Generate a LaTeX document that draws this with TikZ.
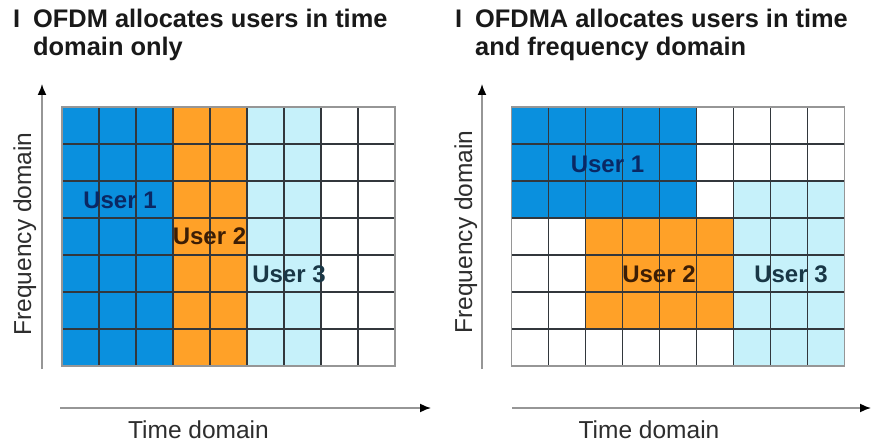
\documentclass[tikz,border=0pt]{standalone}
\usepackage{fontspec}
\setmainfont{Liberation Sans}
\usetikzlibrary{arrows.meta}

\definecolor{userblue}{RGB}{10,144,222}
\definecolor{userorange}{RGB}{255,161,40}
\definecolor{usercyan}{RGB}{198,241,250}
\definecolor{gridink}{RGB}{50,55,60}
\definecolor{frameink}{RGB}{150,150,150}
\definecolor{axisink}{RGB}{150,150,150}
\definecolor{titleink}{RGB}{25,25,25}
\definecolor{labelink}{RGB}{45,45,45}
\definecolor{oneink}{RGB}{10,40,100}
\definecolor{twoink}{RGB}{60,30,5}
\definecolor{threeink}{RGB}{25,55,70}

\tikzset{
  titletext/.style={anchor=base west, inner sep=0pt, text=titleink,
    font=\fontsize{25.4}{30}\selectfont\bfseries},
  axislabel/.style={anchor=base, inner sep=0pt, text=labelink,
    font=\fontsize{24.5}{29}\selectfont},
  userlabel/.style={anchor=base, inner sep=0pt,
    font=\fontsize{24}{29}\selectfont\bfseries},
  gridline/.style={draw=gridink, line width=1.1pt},
  gridframe/.style={draw=frameink, line width=1.4pt},
  axis/.style={draw=axisink, line width=1.6pt,
    -{Latex[length=11pt,width=9pt,color=black]}},
}

% one resource grid: 9 time slots x 7 subcarriers, cells of 37pt
\newcommand{\resgrid}[2]{%
  \foreach \i in {1,...,8}
    \draw[gridline] ({#1+\i*37},#2) -- ({#1+\i*37},{#2+259});
  \foreach \j in {1,...,6}
    \draw[gridline] (#1,{#2+\j*37}) -- ({#1+333},{#2+\j*37});
  \draw[gridframe] (#1,#2) rectangle ({#1+333},{#2+259});
}

\begin{document}
\begin{tikzpicture}[x=1pt,y=-1pt]
\useasboundingbox[fill=white] (0,0) rectangle (872,443);

% ---------- OFDM: users separated in time only ----------
\node[titletext] (lbul) at (13,27.5) {I};
\node[titletext] (lt1) at (33,27.5) {OFDM allocates users in time};
\node[titletext] (lt2) at (33,56) {domain only};

\fill[userblue]   (62,107) rectangle (173,366);
\fill[userorange] (173,107) rectangle (247,366);
\fill[usercyan]   (247,107) rectangle (321,366);
\resgrid{62}{107}

\node[userlabel, text=oneink]   (lu1) at (120,209) {User 1};
\node[userlabel, text=twoink]   (lu2) at (209.5,245) {User 2};
\node[userlabel, text=threeink] (lu3) at (289,283) {User 3};

\coordinate (lyb) at (42,369);
\coordinate (lyt) at (42,84);
\coordinate (lxl) at (60,408);
\coordinate (lxr) at (431,408);
\draw[axis] (lyb) -- (lyt);
\draw[axis] (lxl) -- (lxr);
\node[axislabel, rotate=90] (lfreq) at (31,234) {Frequency domain};
\node[axislabel] (ltime) at (198.5,438) {Time domain};

% ---------- OFDMA: users separated in time and frequency ----------
\node[titletext] (rbul) at (455,27.5) {I};
\node[titletext] (rt1) at (475,27.5) {OFDMA allocates users in time};
\node[titletext] (rt2) at (475,56) {and frequency domain};

\fill[userblue]   (511.5,107) rectangle (696.5,218);
\fill[userorange] (585.5,218) rectangle (733.5,329);
\fill[usercyan]   (733.5,181) rectangle (844.5,366);
\resgrid{511.5}{107}

\node[userlabel, text=oneink]   (ru1) at (607.5,172.5) {User 1};
\node[userlabel, text=twoink]   (ru2) at (659,283) {User 2};
\node[userlabel, text=threeink] (ru3) at (791,283) {User 3};

\coordinate (ryb) at (482,369);
\coordinate (ryt) at (482,84);
\coordinate (rxl) at (512,408);
\coordinate (rxr) at (871,408);
\draw[axis] (ryb) -- (ryt);
\draw[axis] (rxl) -- (rxr);
\node[axislabel, rotate=90] (rfreq) at (472,232) {Frequency domain};
\node[axislabel] (rtime) at (649,438) {Time domain};
\end{tikzpicture}
\end{document}
